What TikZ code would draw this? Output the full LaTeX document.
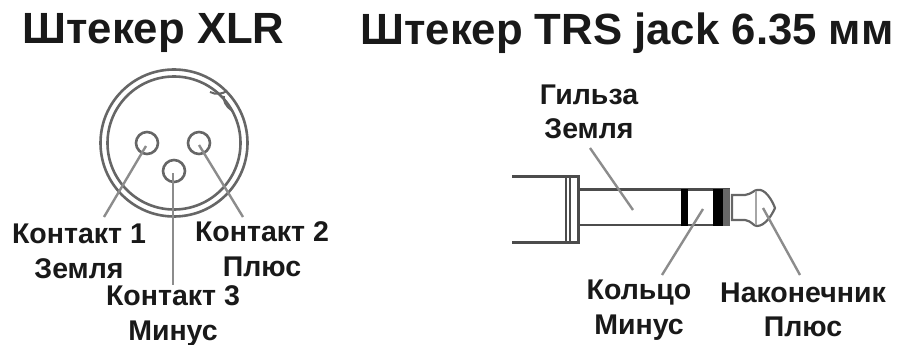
\documentclass[tikz,border=0pt]{standalone}
\usepackage{fontspec}
\setmainfont{Liberation Sans}
\tikzset{
  ttl/.style={font=\bfseries\fontsize{43.7}{46}\selectfont,text=black!90,inner sep=0pt,anchor=center},
  lbl/.style={font=\bfseries\fontsize{28.5}{34.5}\selectfont,text=black!90,inner sep=0pt,align=center,anchor=center},
  ln/.style={draw=black!70,line width=3pt},
  thin ln/.style={draw=black!60,line width=2.6pt},
  leader/.style={draw=black!45,line width=2.4pt},
}
\begin{document}
\begin{tikzpicture}[x=1pt,y=-1pt]
\useasboundingbox (0,0) rectangle (897,345);
\node[ttl] (t1) at (153.5,33) {Штекер XLR};
\node[ttl] (t2) at (627,33) {Штекер TRS jack 6.35 мм};
% XLR
\coordinate (c) at (174,143);
\draw[thin ln] (c) circle (73.5);
\draw[thin ln] (c) circle (66.5);
\draw[thin ln,line width=2pt] (210,92) .. controls (216,95) and (222,94) .. (227,91);
\draw[thin ln,line width=2pt] (224,96) .. controls (223,101) and (226,106) .. (231,110);
\coordinate (p1) at (147,143); \coordinate (p2) at (199,143); \coordinate (p3) at (174,171);
\draw[thin ln] (p1) circle (11);
\draw[thin ln] (p2) circle (11);
\draw[thin ln] (p3) circle (11);
\coordinate (e1) at (104,217); \coordinate (e2) at (243,217); \coordinate (e3) at (173,285);
\draw[leader] (146,146) -- (e1);
\draw[leader] (199,145) -- (e2);
\draw[leader] (173,173) -- (e3);
\node[lbl] (k1) at (79,251.5) {Контакт 1\\Земля};
\node[lbl] (k2) at (262,249) {Контакт 2\\Плюс};
\node[lbl] (k3) at (173,316) {Контакт 3\\Минус};
% Jack
\draw[ln] (512,176) -- (578,176) -- (578,242) -- (512,242);
\draw[ln,line width=2pt] (566,176) -- (566,242);
\draw[ln,line width=2pt] (570,176) -- (570,242);
\draw[ln,line width=2.6pt] (579,189.5) -- (730,189.5);
\draw[ln,line width=2.6pt] (579,225) -- (730,225);
\fill[black] (681,189) rectangle (688,226);
\fill[black] (713,189) rectangle (723,226);
\fill[black!60] (723,189) rectangle (730,226);
\draw[thin ln,line width=2.2pt] (732,195) -- (745,195) .. controls (752,194) and (754,190) .. (757,190) .. controls (765,188) and (772,200) .. (775,208) .. controls (772,215) and (765,226) .. (757,226) .. controls (753,226) and (752,221) .. (745,220) -- (732,220) -- cycle;
\draw[black!35,line width=1.5pt] (756,191) -- (756,225);
\coordinate (j1) at (590,148); \coordinate (j1e) at (633,210);
\coordinate (j2) at (703,209); \coordinate (j2e) at (662,275);
\coordinate (j3) at (763,208); \coordinate (j3e) at (800,275);
\draw[leader] (j1) -- (j1e);
\draw[leader] (j2) -- (j2e);
\draw[leader] (j3) -- (j3e);
\node[lbl] (g) at (589,112) {Гильза\\Земля};
\node[lbl] (r) at (639,310) {Кольцо\\Минус};
\node[lbl] (n) at (803,310) {Наконечник\\Плюс};
\end{tikzpicture}
\end{document}
